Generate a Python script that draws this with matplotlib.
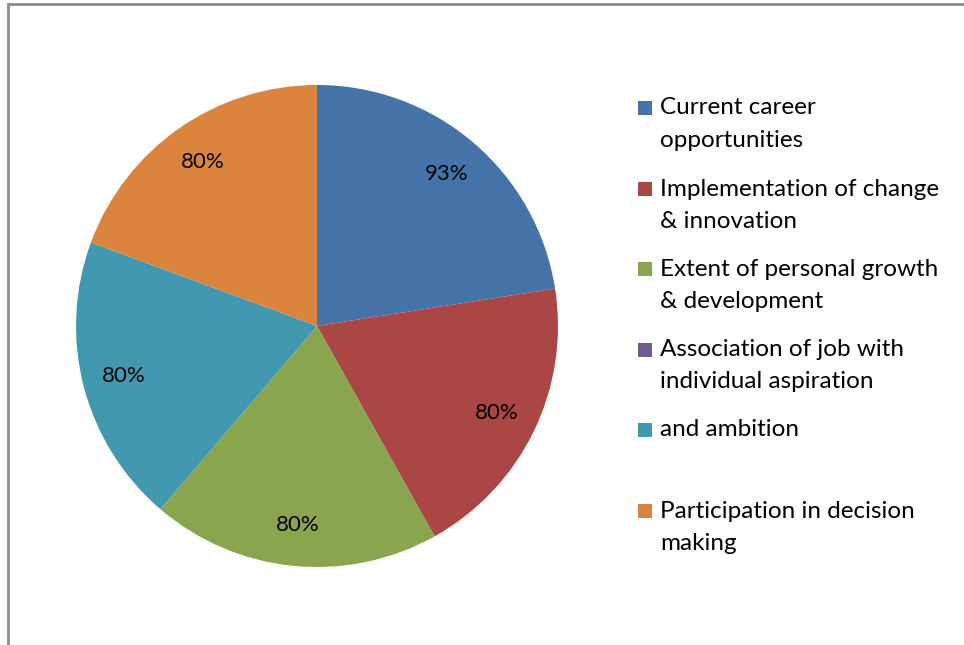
import numpy as np
import matplotlib.pyplot as plt
from matplotlib.patches import Rectangle

# Data
categories = ["Current career opportunities",
              "Implementation of change & innovation",
              "Extent of personal growth & development",
              "Association of job with individual aspiration",
              "and ambition",
              "Participation in decision making"]
values = [93, 80, 80, 0, 80, 80]
pct_labels = ["93%", "80%", "80%", "", "80%", "80%"]
legend_lines = [["Current career", "opportunities"],
                ["Implementation of change", "& innovation"],
                ["Extent of personal growth", "& development"],
                ["Association of job with", "individual aspiration"],
                ["and ambition"],
                ["Participation in decision", "making"]]
colors = ["#4572A7", "#AA4643", "#89A54E", "#71588F", "#4198AF", "#DB843D"]

W, H = 964, 645
FONT = "Lato"
fig = plt.figure(figsize=(W / 100, H / 100), dpi=100)
fig.patch.set_facecolor("white")

# outer chart border (cut at right and bottom)
fig.patches.append(Rectangle((8 / W, -0.1), 1.2, (H - 4) / H + 0.1,
                             transform=fig.transFigure, fill=False,
                             edgecolor="#8c8c8c", linewidth=2))

# pie
cx, cy, r = 317, 326, 241
ax = fig.add_axes([(cx - r) / W, (H - cy - r) / H, 2 * r / W, 2 * r / H])
nz = [i for i, v in enumerate(values) if v > 0]
wedges, _ = ax.pie([values[i] for i in nz], colors=[colors[i] for i in nz],
                   startangle=90, counterclock=False,
                   wedgeprops=dict(linewidth=0))
for w, i in zip(wedges, nz):
    ang = np.deg2rad((w.theta1 + w.theta2) / 2)
    ax.text(0.83 * np.cos(ang), 0.83 * np.sin(ang), pct_labels[i],
            ha="center", va="center", fontsize=16, family=FONT)
ax.set_aspect("equal")
ax.set_xlim(-1, 1)
ax.set_ylim(-1, 1)

# legend drawn by hand to keep the wrapped layout
rows_y = [108, 189, 269, 350, 430, 511]
for y, lines, c in zip(rows_y, legend_lines, colors):
    fig.patches.append(Rectangle((638 / W, (H - y - 7) / H), 14 / W, 14 / H,
                                 transform=fig.transFigure, facecolor=c,
                                 edgecolor="none"))
    for k, line in enumerate(lines):
        fig.text(660 / W, (H - y - 32 * k) / H, line, ha="left",
                 va="center", fontsize=17.5, family=FONT)

fig.savefig("out.png", dpi=100)
